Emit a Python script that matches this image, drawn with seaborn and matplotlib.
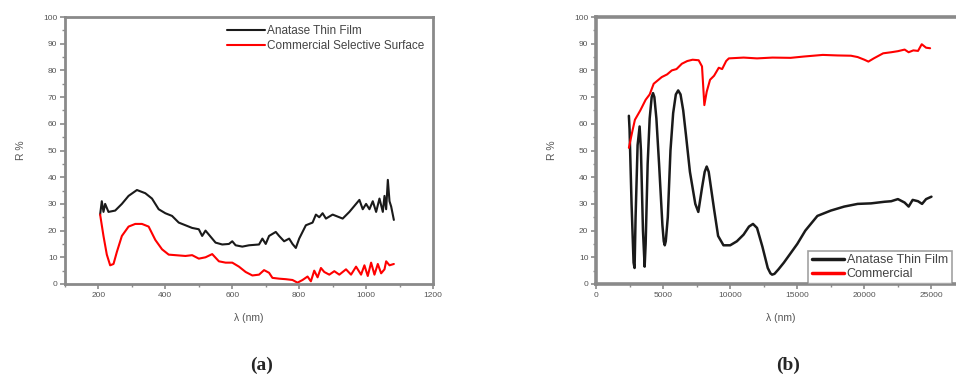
import numpy as np
import matplotlib
matplotlib.use("Agg")
import matplotlib.pyplot as plt
from matplotlib.ticker import MultipleLocator
import seaborn as sns

# panel (a): UV-vis-NIR range
a_film_x = [205, 210, 215, 220, 230, 250, 270, 290, 315, 340, 360, 380, 400, 420, 440, 460, 480, 500, 510, 520,
            530, 550, 570, 590, 600, 610, 630, 650, 680, 690, 700, 710, 730, 740, 755, 770, 780, 790, 800, 820,
            840, 850, 860, 870, 880, 900, 930, 950, 970, 980, 990, 1000, 1010, 1020, 1030, 1040, 1050, 1055,
            1060, 1065, 1070, 1075, 1083]
a_film_y = [26, 31, 27, 30, 27, 27.5, 30, 33, 35.2, 34, 32, 28, 26.5, 25.5, 23, 22, 21, 20.5, 18, 20,
            18.5, 15.5, 14.8, 15, 16, 14.5, 14, 14.5, 14.8, 17, 15, 18, 19.5, 18, 16, 17, 15, 13.5, 17, 22,
            23, 26, 25, 26.5, 24.5, 26, 24.5, 27, 30, 31.5, 28, 30, 28, 31, 27, 32, 27, 33,
            28, 39, 31, 29, 24]
a_comm_x = [205, 215, 225, 235, 245, 255, 270, 290, 310, 330, 350, 370, 390, 410, 430, 460, 480, 500, 520, 540,
            560, 580, 600, 620, 640, 660, 680, 695, 710, 720, 740, 760, 780, 795, 810, 825, 835, 845, 855, 865,
            875, 890, 905, 920, 940, 955, 970, 985, 995, 1005, 1015, 1025, 1035, 1045, 1055, 1060, 1070, 1083]
a_comm_y = [26, 18, 11, 7, 7.5, 12, 18, 21.5, 22.5, 22.5, 21.5, 16.5, 13, 11, 10.8, 10.5, 10.8, 9.5, 10, 11.2,
            8.5, 8, 8, 6.5, 4.5, 3.2, 3.5, 5.2, 4.2, 2.3, 2, 1.8, 1.5, 0.5, 1.5, 2.8, 1, 5, 2.5, 6,
            4.5, 3.5, 4.8, 3.5, 5.5, 3.5, 6.5, 3.5, 7, 3, 8, 3.5, 7.5, 4, 5.5, 8.5, 7, 7.5]

# panel (b): IR range
b_film_x = [2450, 2500, 2650, 2800, 2875, 2950, 3100, 3250, 3350, 3500, 3625, 3700, 3850, 4000, 4150, 4250,
            4350, 4500, 4700, 4950, 5050, 5125, 5200, 5350, 5550, 5750, 5950, 6125, 6300, 6500, 6700, 7000,
            7400, 7625, 7900, 8100, 8250, 8400, 8600, 8800, 9100, 9500, 10000, 10500, 11000, 11400, 11700,
            12000, 12400, 12800, 13000, 13125, 13300, 13600, 14000, 14500, 15000, 15600, 16500, 17500, 18500,
            19500, 20500, 21000, 21500, 22000, 22500, 23000, 23300, 23600, 24000, 24300, 24600, 25000]
b_film_y = [63, 58, 30, 8, 6, 25, 52, 59, 50, 20, 6.5, 15, 45, 62, 70, 71.5,
            70, 62, 45, 22, 16, 14.5, 16, 25, 50, 64, 71, 72.5, 71, 65, 56, 42,
            30, 27, 36, 42, 44, 42, 35, 28, 18, 14.5, 14.5, 16, 18.5, 21.5, 22.5,
            21, 14, 6, 4, 3.5, 3.8, 5.5, 8, 11.5, 15, 20, 25.5, 27.5, 29,
            30, 30.2, 30.5, 30.8, 31, 31.8, 30.5, 29, 31.5, 31, 30, 31.8, 32.7]
b_comm_x = [2450, 2700, 2900, 3300, 3700, 4000, 4300, 4900, 5300, 5650, 6000, 6400, 6800, 7200, 7650, 7900,
            8075, 8250, 8500, 8800, 9150, 9400, 9700, 9900, 11000, 12000, 13150, 14500, 15500, 16900, 18000,
            19000, 19500, 20000, 20300, 20700, 21400, 22000, 22500, 23000, 23300, 23650, 24000, 24275, 24600, 24900]
b_comm_y = [51, 57, 61.5, 65, 69, 71, 75, 77.5, 78.5, 80, 80.5, 82.5, 83.5, 84, 83.8, 81.5,
            67, 72, 76.5, 78, 81, 80.5, 83.5, 84.5, 84.8, 84.5, 84.8, 84.7, 85.2, 85.8, 85.6,
            85.5, 85, 84, 83.3, 84.5, 86.4, 86.8, 87.2, 87.8, 86.8, 87.5, 87.3, 89.8, 88.5, 88.3]

sns.set_style("ticks")
plt.rcParams['font.family'] = ['Liberation Sans', 'DejaVu Sans']

GREY = '#8a8a8a'
TXT = '#555555'

fig = plt.figure(figsize=(9.56, 3.79), dpi=100)
ax_a = fig.add_axes([65/956, 95/379, 368/956, 267/379])
ax_b = fig.add_axes([596/956, 95/379, 369/956, 267/379])


def style_axis(ax, lw, xmajor, xminor):
    for s in ax.spines.values():
        s.set_color(GREY)
        s.set_linewidth(lw)
        s.set_visible(True)
    ax.set_ylim(0, 100)
    ax.yaxis.set_major_locator(MultipleLocator(10))
    ax.yaxis.set_minor_locator(MultipleLocator(5))
    ax.xaxis.set_major_locator(MultipleLocator(xmajor))
    ax.xaxis.set_minor_locator(MultipleLocator(xminor))
    ax.tick_params(which='major', direction='out', length=3.5, width=1.2, color=GREY,
                   labelsize=6, labelcolor=TXT, pad=2)
    ax.tick_params(which='minor', direction='out', length=2, width=1, color=GREY)
    ax.set_ylabel('R %', fontsize=7.5, color=TXT, labelpad=12)
    ax.set_xlabel('λ (nm)', fontsize=7.5, color=TXT, labelpad=10)


# (a)
sns.lineplot(x=a_film_x, y=a_film_y, ax=ax_a, color='#1a1a1a', lw=1.5,
             estimator=None, sort=False, label='Anatase Thin Film')
sns.lineplot(x=a_comm_x, y=a_comm_y, ax=ax_a, color='#ff0000', lw=1.5,
             estimator=None, sort=False, label='Commercial Selective Surface')
ax_a.set_xlim(100, 1200)
style_axis(ax_a, 2.0, 200, 100)
leg = ax_a.legend(loc='upper right', frameon=False, fontsize=8.5, handlelength=3.2,
                  handletextpad=0.2, borderaxespad=0.3, labelspacing=0.25)
for t in leg.get_texts():
    t.set_color('#444444')

# (b)
sns.lineplot(x=b_film_x, y=b_film_y, ax=ax_b, color='#1a1a1a', lw=1.8,
             estimator=None, sort=False, label='Anatase Thin Film')
sns.lineplot(x=b_comm_x, y=b_comm_y, ax=ax_b, color='#ff0000', lw=1.5,
             estimator=None, sort=False, label='Commercial')
ax_b.set_xlim(0, 27500)
style_axis(ax_b, 2.6, 5000, 2500)
leg = ax_b.legend(loc='lower left', bbox_to_anchor=(212/369, 0.0), frameon=True, fontsize=9,
                  handlelength=2.6, handletextpad=0.2, borderaxespad=0.0, labelspacing=0.15,
                  fancybox=False, borderpad=0.3)
leg.get_frame().set_edgecolor(GREY)
leg.get_frame().set_linewidth(1.2)
for t in leg.get_texts():
    t.set_color('#444444')
for l in leg.get_lines():
    l.set_linewidth(2.5)

fig.text(262/956, 1 - 365/379, '(a)', ha='center', va='center', fontsize=14,
         fontweight='bold', family='Liberation Serif')
fig.text(788/956, 1 - 365/379, '(b)', ha='center', va='center', fontsize=14,
         fontweight='bold', family='Liberation Serif')

fig.savefig('out.png', dpi=100)
